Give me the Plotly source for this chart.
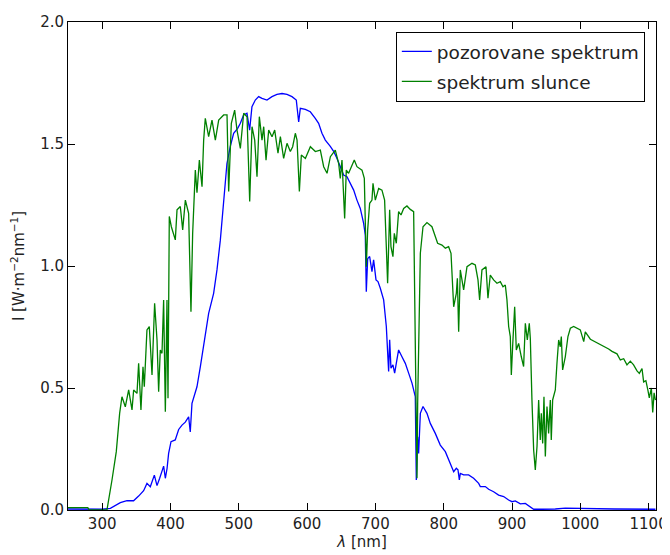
import plotly.graph_objects as go

# pozorovane spektrum (observed spectrum)
obs_wl = [250, 300, 312, 326.6, 336.3, 346, 353.4, 360.7, 365.6, 370.5, 376.4, 380.3, 384.2, 387.6, 390,
          392.5, 395, 397.3, 400.8, 407, 412, 416.9, 421.7, 426.6, 429, 431.5, 436.4, 438.8, 443.7, 449.6,
          455.9, 463.2, 468.1, 473, 477.9, 482.7, 487.6, 492.5, 498.4, 502.3, 507.1, 512, 515.9, 519.3,
          524.2, 529.1, 534, 541.3, 548.6, 555.9, 563.3, 570.6, 577.9, 584.2, 587.7, 590.1, 597.4, 604.7,
          612, 616.9, 621.8, 626.7, 634, 638.9, 643.8, 648.6, 653.5, 658.4, 663.3, 668.2, 673, 677.9,
          682.8, 685.2, 686.7, 688.7, 691.6, 695, 697.4, 700.9, 703.8, 707.2, 712.1, 716, 718, 719.4,
          720.9, 722.8, 725.7, 728.2, 730.6, 734, 738.9, 743.8, 748.7, 753.6, 758.4, 759.9, 761.9, 763.3,
          765.8, 769.7, 775.5, 780.4, 787.7, 795, 802.4, 809.7, 814.6, 818.5, 820.9, 822.9, 824.3, 829.2,
          836.5, 843.8, 851.2, 853.6, 860.9, 865.8, 873.1, 880.4, 887.8, 895, 900, 904.8, 912.2, 919.5,
          926.8, 931.7, 943.9, 963.4, 978, 1002.4, 1050, 1110]
obs_I = [0.004, 0.003, 0.007, 0.03, 0.038, 0.038, 0.057, 0.079, 0.109, 0.095, 0.143, 0.10, 0.13, 0.157, 0.18,
         0.13, 0.17, 0.232, 0.28, 0.287, 0.33, 0.348, 0.36, 0.382, 0.32, 0.437, 0.478, 0.505, 0.587, 0.703,
         0.806, 0.888, 0.984, 1.106, 1.27, 1.42, 1.49, 1.544, 1.564, 1.585, 1.619, 1.626, 1.557, 1.653,
         1.680, 1.694, 1.687, 1.68, 1.694, 1.703, 1.707, 1.703, 1.694, 1.68, 1.59, 1.646, 1.642, 1.632,
         1.605, 1.585, 1.544, 1.516, 1.49, 1.47, 1.441, 1.407, 1.373, 1.366, 1.339, 1.311, 1.27, 1.236,
         1.175, 1.127, 0.895, 1.03, 1.039, 0.977, 1.025, 0.943, 0.936, 0.909, 0.861, 0.752, 0.643, 0.568,
         0.698, 0.581, 0.595, 0.561, 0.601, 0.656, 0.628, 0.601, 0.561, 0.520, 0.465, 0.123, 0.30, 0.232,
         0.396, 0.424, 0.396, 0.355, 0.314, 0.266, 0.239, 0.191, 0.157, 0.171, 0.165, 0.123, 0.150, 0.144,
         0.144, 0.130, 0.109, 0.096, 0.096, 0.085, 0.075, 0.061, 0.055, 0.041, 0.034, 0.037, 0.025, 0.027,
         0.014, 0.003, 0.003, 0.004, 0.008, 0.006, 0.004, 0.003]

# spektrum slunce (solar spectrum)
sun_wl = [250, 279, 281, 307, 314.4, 320.7, 325.6, 329, 333.9, 338.8, 343.7, 346.1, 351, 353.4, 356.8, 359.8,
          361.7, 365.6, 369, 373, 376.8, 380.3, 382.7, 385.1, 387.6, 390, 392.5, 394.9, 396.4, 398.3, 401.3,
          407.1, 409.6, 414.4, 417.9, 421.8, 426.6, 430, 432.5, 436.4, 438.8, 442.3, 446.2, 448.6, 451,
          455.9, 460.8, 465.7, 470.6, 477.9, 482.8, 485.2, 489.1, 494, 497.4, 502.3, 507.2, 512.1, 516,
          519.4, 523.3, 526.7, 530.1, 534, 536.5, 539.9, 543.8, 548.7, 552.6, 557.4, 560.9, 565.7, 570.6,
          575.5, 578.9, 582.8, 585.3, 588.7, 591.6, 597.5, 604.8, 612.1, 619.4, 624.3, 629.2, 634.1, 641.3,
          646.2, 648.6, 651.1, 655, 657.4, 660.8, 665.7, 669.1, 673, 680.4, 683.8, 685.2, 686.7, 688.7,
          691.6, 695, 696.5, 699.9, 704.8, 709.6, 713.5, 716, 717.9, 720.9, 722.8, 725.7, 727.7, 730.6,
          734, 737.5, 741.4, 746.2, 751.1, 756, 758.4, 759.9, 760.9, 761.9, 763.8, 765.8, 769.7, 775.5,
          782.8, 787.7, 791.1, 797.5, 802.4, 807.2, 810.7, 814.6, 817, 818.5, 820, 821.9, 824.3, 829.2,
          834.1, 841.4, 846.3, 850.2, 852.6, 856, 861.9, 864.8, 868.2, 873.1, 878, 882.9, 886.8, 890.2,
          892.6, 895.1, 897.5, 899, 900.9, 903.9, 906.3, 909.7, 913.6, 917, 919.5, 922.4, 925.3, 926.8,
          929.2, 931.7, 934.1, 936.6, 939, 941.4, 942.9, 944.9, 946.8, 948.8, 951.2, 953.6, 956.1, 957.5,
          959.5, 963.4, 965.8, 968.3, 970.7, 972.2, 974.1, 978, 981.9, 985.4, 990.2, 995.1, 1000, 1005,
          1007.3, 1014.7, 1022, 1031.8, 1041.5, 1046.4, 1053.7, 1058.6, 1063.5, 1068.3, 1073.2, 1078,
          1083, 1086.4, 1090.3, 1092.7, 1096, 1099, 1101, 1104, 1106, 1108, 1110]
sun_I = [0.01, 0.01, 0.0, 0.0, 0.123, 0.239, 0.396, 0.464, 0.423, 0.492, 0.410, 0.492, 0.478, 0.601, 0.410, 0.587,
         0.505, 0.738, 0.752, 0.553, 0.847, 0.697, 0.485, 0.656, 0.642, 0.861, 0.403, 0.861, 0.458, 1.203, 1.161,
         1.107, 1.23, 1.244, 1.148, 1.27, 1.216, 0.813, 1.134, 1.393, 1.30, 1.434, 1.325, 1.516, 1.605,
         1.530, 1.598, 1.516, 1.598, 1.619, 1.619, 1.305, 1.585, 1.639, 1.557, 1.482, 1.626, 1.612, 1.264,
         1.571, 1.516, 1.366, 1.612, 1.516, 1.571, 1.434, 1.557, 1.530, 1.557, 1.462, 1.530, 1.441, 1.503,
         1.469, 1.489, 1.544, 1.516, 1.305, 1.455, 1.441, 1.489, 1.469, 1.475, 1.407, 1.380, 1.448, 1.475,
         1.421, 1.359, 1.434, 1.195, 1.393, 1.380, 1.414, 1.434, 1.407, 1.393, 1.359, 1.148, 0.997, 1.148,
         1.257, 1.27, 1.339, 1.27, 1.318, 1.311, 1.27, 1.079, 0.929, 1.23, 1.079, 1.038, 1.134, 1.093,
         1.223, 1.209, 1.236, 1.246, 1.232, 1.223, 0.642, 0.287, 0.130, 0.437, 0.779, 1.052, 1.161, 1.178,
         1.161, 1.12, 1.093, 1.086, 1.073, 1.079, 1.052, 0.833, 0.861, 0.888, 0.95, 0.731, 0.984, 0.902,
         0.997, 1.011, 1.004, 0.943, 0.861, 0.984, 0.997, 0.868, 0.963, 0.943, 0.929, 0.936, 0.915, 0.922,
         0.861, 0.752, 0.711, 0.553, 0.669, 0.833, 0.656, 0.683, 0.628, 0.588, 0.765, 0.697, 0.765, 0.704,
         0.451, 0.246, 0.164, 0.260, 0.451, 0.287, 0.396, 0.273, 0.464, 0.219, 0.424, 0.314, 0.451, 0.287,
         0.451, 0.492, 0.601, 0.697, 0.669, 0.711, 0.574, 0.628, 0.711, 0.745, 0.752, 0.745, 0.738, 0.69,
         0.73, 0.70, 0.69, 0.675, 0.66, 0.65, 0.64, 0.615, 0.62, 0.595, 0.61, 0.595,
         0.57, 0.56, 0.58, 0.525, 0.53, 0.49, 0.46, 0.50, 0.40, 0.48, 0.45]

x_ticks = [300, 400, 500, 600, 700, 800, 900, 1000, 1100]
y_ticks = [0.0, 0.5, 1.0, 1.5, 2.0]
y_tick_labels = ["0.0", "0.5", "1.0", "1.5", "2.0"]

FONT = "DejaVu Sans"

fig = go.Figure()
fig.add_trace(go.Scatter(x=obs_wl, y=obs_I, mode="lines", name="pozorovane spektrum",
                         legendgroup="a", line=dict(color="#0000ff", width=1.3)))
fig.add_trace(go.Scatter(x=sun_wl, y=sun_I, mode="lines", name="spektrum slunce",
                         legendgroup="b", line=dict(color="#008000", width=1.3)))

axis_common = dict(showgrid=False, zeroline=False, showline=True, linecolor="black", linewidth=1,
                   mirror="allticks", ticks="inside", ticklen=7, tickcolor="black", tickwidth=1,
                   automargin=False,
                   tickfont=dict(family=FONT, size=15, color="#222"))

fig.update_xaxes(range=[250, 1110.8], tickvals=x_ticks, ticktext=[str(v) for v in x_ticks],
                 title=dict(text="<i>λ</i> [nm]", font=dict(family=FONT, size=15, color="#222"), standoff=4),
                 **axis_common)
fig.update_yaxes(range=[0, 2.0], tickvals=y_ticks, ticktext=y_tick_labels,
                 title=dict(text="I [W·m<sup>−2</sup>nm<sup>−1</sup>]", font=dict(family=FONT, size=15, color="#222"),
                            standoff=14),
                 **axis_common)

# the page body adds an 8px offset, so the figure is sized to fit the 670x555 window
fig.update_layout(
    width=662, height=547,
    margin=dict(l=60, r=14, t=14, b=45),
    paper_bgcolor="white", plot_bgcolor="white",
    font=dict(family=FONT, color="#222"),
    showlegend=True,
    legend=dict(x=0.981, y=0.98, xanchor="right", yanchor="top",
                bgcolor="white", bordercolor="black", borderwidth=1,
                font=dict(family=FONT, size=18.5, color="#222"),
                itemwidth=30, tracegroupgap=3),
)

fig.write_html("out.html")
